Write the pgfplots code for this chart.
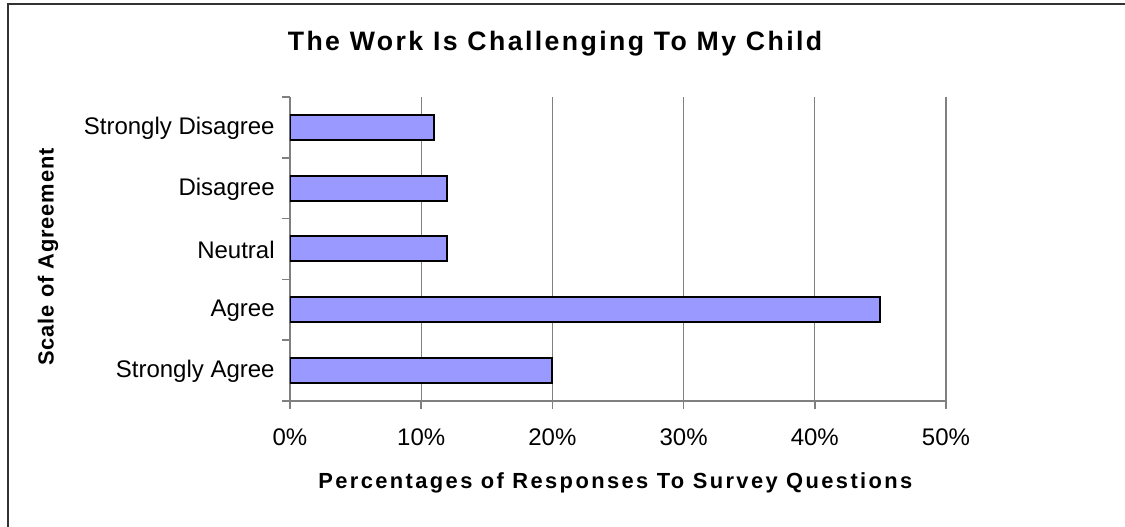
\documentclass[border=0pt]{standalone}
\usepackage{pgfplots}
\pgfplotsset{compat=1.18}
\usepackage{fontspec}
\setmainfont{Liberation Sans}
\newfontfamily\titlefont{Liberation Sans}[LetterSpace=9]
\newfontfamily\xlabfont{Liberation Sans}[LetterSpace=11]
\newfontfamily\ylabfont{Liberation Sans}[LetterSpace=4]
\definecolor{barblue}{HTML}{9999FF}
\definecolor{axgray}{HTML}{808080}
\begin{document}
\begin{tikzpicture}
% whole picture: 1125 x 527 px, 1 px = 0.75 pt
\path[use as bounding box] (0,0) rectangle (843.75pt,395.25pt);
\draw[line width=1.5pt, color=black!80] (6pt,0) -- (6pt,391.9pt) -- (843.75pt,391.9pt);
\begin{axis}[
    at={(217.5pt,94.5pt)}, anchor=south west,
    scale only axis,
    width=492pt, height=228pt,
    xbar, bar width=18.75pt,
    xmin=0, xmax=50,
    ymin=-0.5, ymax=4.5,
    xtick={0,10,20,30,40,50},
    xticklabels={0\%,10\%,20\%,30\%,40\%,50\%},
    ytick={-0.5,0.5,1.5,2.5,3.5,4.5},
    yticklabels={Strongly Agree,Agree,Neutral,Disagree,Strongly Disagree,{}},
    yticklabel style={yshift=22.2pt, xshift=-2pt, anchor=east, font=\fontsize{18}{20}\selectfont},
    xticklabel style={yshift=-11pt, font=\fontsize{18}{20}\selectfont},
    axis x line*=bottom, axis y line*=left,
    axis line style={-, draw=axgray, line width=1.2pt},
    tick align=outside,
    major tick length=6pt,
    tick style={draw=axgray, line width=1.2pt},
    xmajorgrids,
    grid style={draw=axgray, line width=0.9pt},
    every axis title shift=0pt,
    title={\titlefont\bfseries The Work Is Challenging To My Child},
    title style={at={(axis description cs:0.404,1.174)}, anchor=center, font=\fontsize{20}{24}\selectfont},
    xlabel={\xlabfont\bfseries Percentages of Responses To Survey Questions},
    xlabel style={at={(axis description cs:0.496,-0.27)}, anchor=center, font=\fontsize{16.4}{20}\selectfont},
    ylabel={\ylabfont\bfseries Scale of Agreement},
    ylabel style={at={(axis description cs:-0.369,0.474)}, anchor=center, rotate=0, font=\fontsize{16.4}{20}\selectfont},
]
\addplot[fill=barblue, draw=black, line width=1.5pt] coordinates {
    (20,0) (45,1) (12,2) (12,3) (11,4)
};
\end{axis}
\end{tikzpicture}
\end{document}
